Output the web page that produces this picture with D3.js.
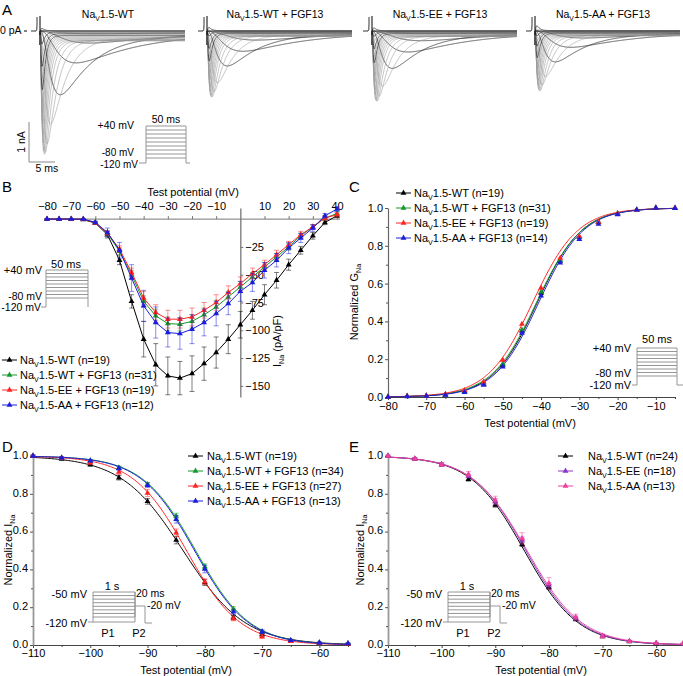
<!DOCTYPE html>
<html>
<head>
<meta charset="utf-8">
<script src="https://cdn.jsdelivr.net/npm/d3@7"></script>
<style>
  body { margin: 0; background: #fff; }
  text { font-family: "Liberation Sans", Arial, sans-serif; }
</style>
</head>
<body>
<svg id="fig" width="683" height="676"></svg>
<script>
// ---------------- data ----------------
// panel A: current families (peak amplitude per sweep comes from the I-V means of panel B)
const traceTitles = ["Na_{V}1.5-WT", "Na_{V}1.5-WT + FGF13", "Na_{V}1.5-EE + FGF13", "Na_{V}1.5-AA + FGF13"];
const tracePeakNA = [3.08, 1.65, 1.75, 1.5];
// kinetic time constants (ms) used to shape each sweep, one per test potential
const sweepTauM = [4, 4, 4, 4, 4, 3.5, 2.5, 1.5, 0.8, 0.55, 0.42, 0.35, 0.3, 0.27, 0.24, 0.22, 0.2, 0.19, 0.18, 0.17, 0.16, 0.15, 0.15, 0.14, 0.14];
const sweepTauH = [18, 18, 18, 18, 18, 16, 12, 6, 3, 1.9, 1.4, 1.1, 0.95, 0.85, 0.78, 0.72, 0.68, 0.65, 0.62, 0.6, 0.58, 0.56, 0.55, 0.54, 0.53];

// panel B: I-V relation (pA/pF)
const ivVoltage = [-80, -75, -70, -65, -60, -55, -50, -45, -40, -35, -30, -25, -20, -15, -10, -5, 0, 5, 10, 15, 20, 25, 30, 35, 40];
const ivWT     = [0, 0, 0, -0.5, -3.5, -14, -37, -74, -108, -131, -141, -143, -139, -130, -120, -108, -95, -82, -68, -55, -41, -28, -15, -3, 3];
const ivWTsem  = [0.5, 0.5, 0.5, 0.5, 1, 3, 4, 6, 16, 19, 17, 15, 16, 15, 14, 13, 12, 8, 9, 7, 5, 3.5, 3, 2, 1.5];
const ivWTF    = [0, 0, 0, 0, -3, -13, -29, -50, -74, -87, -94, -94.5, -92, -86, -79, -70, -61, -52, -43, -34, -25, -15, -7, 1, 5];
const ivWTFsem = [0.5, 0.5, 0.5, 0.5, 1, 2, 3, 4, 5, 6, 6, 6, 6, 6, 6, 5, 5, 4, 4, 3, 3, 2.5, 2, 2, 2];
const ivEE     = [0, 0, 0, 0, -3.5, -12.5, -27, -48, -71, -84, -90, -90, -88, -82, -75, -66, -58, -49, -41, -32, -23, -14, -7, 1, 4];
const ivEEsem  = [0.5, 0.5, 0.5, 0.5, 1, 2, 3, 4, 6, 7, 8, 8, 8, 7, 7, 6, 6, 5, 4, 4, 3, 3, 2, 2, 2];
const ivAA     = [0, 0, 0, 0, -3, -12, -28, -53, -78, -93, -102, -103, -99, -93, -85, -76, -65, -57, -46, -37, -26, -17, -8, 3, 9];
const ivAAsem  = [0.5, 0.5, 0.5, 0.5, 1, 4, 7, 12, 14, 14, 13, 14, 13, 12, 11, 10, 9, 8, 7, 6, 5, 4, 3, 2, 2];
const ivLabels = ["Na_{V}1.5-WT (n=19)", "Na_{V}1.5-WT + FGF13 (n=31)", "Na_{V}1.5-EE + FGF13 (n=19)", "Na_{V}1.5-AA + FGF13 (n=12)"];

// panel C: activation (normalized G_Na) + Boltzmann fit parameters
const actVoltage = [-80, -75, -70, -65, -60, -55, -50, -45, -40, -35, -30, -25, -20, -15, -10, -5];
const actWT  = [0, 0.004, 0.006, 0.012, 0.03, 0.07, 0.17, 0.35, 0.55, 0.72, 0.845, 0.925, 0.97, 0.99, 1.0, 1.0];
const actWTF = [0, 0.004, 0.006, 0.012, 0.03, 0.07, 0.175, 0.355, 0.555, 0.725, 0.845, 0.925, 0.97, 0.99, 1.0, 0.998];
const actEE  = [0, 0.005, 0.007, 0.015, 0.035, 0.08, 0.196, 0.386, 0.577, 0.735, 0.85, 0.925, 0.97, 0.99, 1.0, 1.0];
const actAA  = [0, 0.003, 0.005, 0.01, 0.025, 0.063, 0.16, 0.338, 0.535, 0.71, 0.835, 0.915, 0.965, 0.99, 1.0, 0.998];
const actHalf  = [-41.0, -41.2, -42.2, -40.6];
const actSlope = [5.8, 5.9, 5.9, 5.8];
const actLabels = ["Na_{V}1.5-WT (n=19)", "Na_{V}1.5-WT + FGF13 (n=31)", "Na_{V}1.5-EE + FGF13 (n=19)", "Na_{V}1.5-AA + FGF13 (n=14)"];

// panel D: steady-state inactivation with FGF13
const inaVoltage = [-110, -105, -100, -95, -90, -85, -80, -75, -70, -65, -60, -55];
const inaWT     = [1.0, 0.985, 0.955, 0.885, 0.76, 0.555, 0.33, 0.145, 0.055, 0.02, 0.01, 0.005];
const inaWTsem  = [0.005, 0.008, 0.01, 0.012, 0.015, 0.02, 0.015, 0.012, 0.008, 0.005, 0.004, 0.003];
const inaWTF    = [1.0, 0.99, 0.975, 0.938, 0.85, 0.682, 0.414, 0.19, 0.07, 0.025, 0.012, 0.008];
const inaWTFsem = [0.004, 0.005, 0.006, 0.008, 0.01, 0.015, 0.015, 0.012, 0.008, 0.005, 0.004, 0.003];
const inaEE     = [1.0, 0.99, 0.965, 0.915, 0.804, 0.594, 0.335, 0.14, 0.045, 0.02, 0.01, 0.005];
const inaEEsem  = [0.004, 0.006, 0.01, 0.012, 0.018, 0.02, 0.015, 0.012, 0.01, 0.005, 0.004, 0.003];
const inaAA     = [1.0, 0.99, 0.975, 0.935, 0.845, 0.665, 0.402, 0.175, 0.07, 0.025, 0.012, 0.008];
const inaAAsem  = [0.004, 0.005, 0.006, 0.01, 0.012, 0.02, 0.02, 0.015, 0.01, 0.005, 0.004, 0.003];
const inaHalf  = [-83.8, -81.6, -83.2, -81.8];
const inaSlope = [5.4, 4.7, 4.7, 4.7];
const inaLabels = ["Na_{V}1.5-WT (n=19)", "Na_{V}1.5-WT + FGF13 (n=34)", "Na_{V}1.5-EE + FGF13 (n=27)", "Na_{V}1.5-AA + FGF13 (n=13)"];

// panel E: steady-state inactivation without FGF13
const inbWT    = [1.0, 0.985, 0.955, 0.877, 0.741, 0.533, 0.305, 0.137, 0.045, 0.018, 0.008, 0.004];
const inbWTsem = [0.004, 0.006, 0.008, 0.01, 0.012, 0.012, 0.012, 0.01, 0.006, 0.004, 0.003, 0.002];
const inbEE    = [1.0, 0.985, 0.955, 0.894, 0.759, 0.556, 0.318, 0.142, 0.048, 0.02, 0.01, 0.005];
const inbEEsem = [0.004, 0.006, 0.008, 0.01, 0.015, 0.015, 0.012, 0.01, 0.006, 0.004, 0.003, 0.002];
const inbAA    = [1.0, 0.985, 0.955, 0.903, 0.767, 0.564, 0.326, 0.148, 0.048, 0.02, 0.01, 0.008];
const inbAAsem = [0.004, 0.006, 0.01, 0.015, 0.02, 0.03, 0.03, 0.015, 0.01, 0.006, 0.004, 0.003];
const inbHalf  = [-84.6, -84.3, -84.1];
const inbSlope = [5.0, 5.0, 5.1];
const inbLabels = ["Na_{V}1.5-WT (n=24)", "Na_{V}1.5-EE (n=18)", "Na_{V}1.5-AA (n=13)"];

// ---------------- helpers ----------------
const svg = d3.select("#fig");
svg.append("rect").attr("width", 683).attr("height", 676).attr("fill", "#fff");

const colBlack = "#000000", colGreen = "#16992c", colRed = "#ff2424", colBlue = "#1c1cdc";
const colPurple = "#8a36c8", colPink = "#f0409e";

function txt(g, x, y, s, o = {}) {
  const size = o.size || 11;
  const t = g.append("text").attr("x", x).attr("y", y)
    .attr("font-size", size).attr("text-anchor", o.anchor || "start").attr("fill", "#000");
  if (o.rotate) t.attr("transform", `rotate(${o.rotate},${x},${y})`);
  let shifted = false;
  s.split(/(_\{[^}]*\})/).forEach(p => {
    if (!p) return;
    const m = p.match(/^_\{(.*)\}$/);
    if (m) {
      t.append("tspan").attr("font-size", size * 0.65).attr("dy", 3).text(m[1]);
      shifted = true;
    } else {
      const ts = t.append("tspan").text(p);
      if (shifted) { ts.attr("dy", -3); shifted = false; }
    }
  });
  return t;
}

const tri = d3.symbol().type(d3.symbolTriangle).size(15);

function styleAxis(g, color, width) {
  g.attr("font-size", 11).attr("font-family", '"Liberation Sans", Arial, sans-serif');
  g.selectAll("path.domain").attr("stroke", color).attr("stroke-width", width || 1);
  g.selectAll(".tick line").attr("stroke", color);
  g.selectAll(".tick text").attr("fill", "#000");
}

function series(g, x, y, xs, ys, sem, color, withLine) {
  if (sem) {
    const eb = g.append("g").attr("stroke", color).attr("stroke-opacity", 0.5).attr("stroke-width", 1);
    xs.forEach((v, i) => {
      const top = y(ys[i] + sem[i]), bot = y(ys[i] - sem[i]), cx = x(v);
      eb.append("line").attr("x1", cx).attr("x2", cx).attr("y1", top).attr("y2", bot);
      eb.append("line").attr("x1", cx - 2.5).attr("x2", cx + 2.5).attr("y1", top).attr("y2", top);
      eb.append("line").attr("x1", cx - 2.5).attr("x2", cx + 2.5).attr("y1", bot).attr("y2", bot);
    });
  }
  if (withLine) {
    g.append("path").datum(xs.map((v, i) => [v, ys[i]]))
      .attr("fill", "none").attr("stroke", color).attr("stroke-width", 1)
      .attr("d", d3.line().x(d => x(d[0])).y(d => y(d[1])));
  }
  g.append("g").selectAll("path").data(xs).join("path")
    .attr("transform", (v, i) => `translate(${x(v)},${y(ys[i])})`)
    .attr("d", tri).attr("fill", color);
}

function fitCurve(g, x, y, v0, v1, f, color) {
  const pts = d3.range(v0, v1 + 0.01, 0.25).map(v => [v, f(v)]);
  g.append("path").datum(pts).attr("fill", "none").attr("stroke", color).attr("stroke-width", 1)
    .attr("d", d3.line().x(d => x(d[0])).y(d => y(d[1])));
}

function legend(g, xLine, xText, y0, dy, labels, colors) {
  labels.forEach((s, i) => {
    const yy = y0 + i * dy;
    g.append("line").attr("x1", xLine).attr("x2", xLine + 15).attr("y1", yy).attr("y2", yy)
      .attr("stroke", colors[i]).attr("stroke-width", 1);
    g.append("path").attr("transform", `translate(${xLine + 7.5},${yy})`).attr("d", tri).attr("fill", colors[i]);
    txt(g, xText, yy + 4, s);
  });
}

// step protocol sketch: box of test steps from a holding level
function stepProtocol(g, x0, x1, yTop, yBot, yBase, n, xl, xr) {
  const p = g.append("g").attr("stroke", "#8a8a8a").attr("stroke-width", 0.9).attr("fill", "none");
  const ys = d3.range(n).map(i => yTop + (yBot - yTop) * i / (n - 1));
  ys.forEach(yy => p.append("line").attr("x1", x0).attr("x2", x1).attr("y1", yy).attr("y2", yy));
  p.append("path").attr("d", `M${xl},${yBase}H${x0}V${yTop}M${x1},${yTop}V${yBase}H${xr}`);
  return p;
}

// ---------------- panel A ----------------
const gA = svg.append("g");
txt(gA, 2, 15, "A", { size: 15 });
txt(gA, 0, 34, "0 pA", { size: 10.5 });
gA.append("line").attr("x1", 24).attr("x2", 27).attr("y1", 31).attr("y2", 31).attr("stroke", "#000");

const groupStart = [40, 207, 372, 535];
const groupIV = [ivWT, ivWTF, ivEE, ivAA];
const baseY = 31;
const pxPerNA = 40;
const darkSweeps = [-55, -50, -45, 10, 20, 30, 40];

groupStart.forEach((x0, gi) => {
  const g = gA.append("g");
  txt(g, x0 + 68, 18, traceTitles[gi], { size: 10.5, anchor: "middle" });
  const tx = d3.scaleLinear().domain([0, 28]).range([x0, x0 + 145]);
  const iy = d3.scaleLinear().domain([0, -1]).range([baseY, baseY + pxPerNA]);
  // capacitive step before the test pulse
  g.append("path").attr("fill", "none").attr("stroke", "#000").attr("stroke-width", 0.8)
    .attr("d", `M${x0 - 9},${baseY}H${x0 - 4}Q${x0 - 3},${baseY} ${x0 - 3},${baseY - 6}V${baseY - 14}`);
  const iv = groupIV[gi];
  const ivMin = d3.min(iv);
  ivVoltage.forEach((v, si) => {
    const amp = tracePeakNA[gi] * iv[si] / -ivMin; // nA, negative = inward
    const tm = sweepTauM[si], th = sweepTauH[si];
    const ts = d3.range(0, 28.001, 0.05);
    const shape = ts.map(t => Math.pow(1 - Math.exp(-t / tm), 3) * (Math.exp(-t / th) + 0.03));
    const mx = d3.max(shape);
    const pts = ts.map((t, k) => [t, -amp * shape[k] / mx]);
    pts[0] = [0, 0.35];
    const dark = darkSweeps.includes(v);
    g.append("path").datum(pts).attr("fill", "none")
      .attr("stroke", dark ? "#333" : "#9a9a9a").attr("stroke-width", dark ? 0.8 : 0.6)
      .attr("d", d3.line().x(d => tx(d[0])).y(d => iy(-d[1])));
  });
  g.append("line").attr("x1", x0).attr("x2", x0).attr("y1", baseY - 15).attr("y2", baseY + 4)
    .attr("stroke", "#000").attr("stroke-width", 1);
});

// scale bars
gA.append("path").attr("fill", "none").attr("stroke", "#888").attr("stroke-width", 1)
  .attr("d", "M29,122V162H55");
txt(gA, 25, 142, "1 nA", { size: 10.5, anchor: "middle", rotate: -90 });
txt(gA, 47, 172, "5 ms", { size: 10.5, anchor: "middle" });
// protocol
stepProtocol(gA, 146, 186, 126, 158, 163, 9, 139, 190);
txt(gA, 166, 123, "50 ms", { size: 10.5, anchor: "middle" });
txt(gA, 134, 129, "+40 mV", { size: 10.5, anchor: "end" });
txt(gA, 134, 156, "-80 mV", { size: 10, anchor: "end" });
txt(gA, 138, 168, "-120 mV", { size: 10, anchor: "end" });

// ---------------- panel B ----------------
const gB = svg.append("g");
txt(gB, 2, 192, "B", { size: 15 });
const xB = d3.scaleLinear().domain([-80, 40]).range([47, 337]);
const yB = d3.scaleLinear().domain([-160, 10]).range([397, 208]);

const axBx = gB.append("g").attr("transform", `translate(0,${yB(0)})`)
  .call(d3.axisTop(xB).tickValues([-80, -70, -60, -50, -40, -30, -20, -10, 10, 20, 30, 40]).tickSize(3).tickSizeOuter(0).tickPadding(6));
styleAxis(axBx, "#777");
axBx.select("path.domain").attr("d", `M${xB(-80)},0H${xB(40) + 3}`);
const axBy = gB.append("g").attr("transform", `translate(${xB(0)},0)`)
  .call(d3.axisRight(yB).tickValues([-25, -50, -75, -100, -125, -150]).tickSize(3).tickSizeOuter(0).tickPadding(2));
styleAxis(axBy, "#777", 1.3);
txt(gB, 193, 196, "Test potential  (mV)", { anchor: "middle" });
txt(gB, 281, 341, "I_{Na} (pA/pF)", { anchor: "middle", rotate: -90 });

[[ivWT, ivWTsem, colBlack], [ivWTF, ivWTFsem, colGreen], [ivEE, ivEEsem, colRed], [ivAA, ivAAsem, colBlue]]
  .forEach(([m, s, c]) => series(gB, xB, yB, ivVoltage, m, s, c, true));

legend(gB, 2, 20, 360, 15, ivLabels, [colBlack, colGreen, colRed, colBlue]);
stepProtocol(gB, 46, 88, 270, 298, 307, 9, 41, 88);
txt(gB, 66, 268, "50 ms", { anchor: "middle" });
txt(gB, 42, 274, "+40 mV", { anchor: "end" });
txt(gB, 42, 300, "-80 mV", { size: 10.5, anchor: "end" });
txt(gB, 41, 311, "-120 mV", { size: 10.5, anchor: "end" });

// ---------------- panel C ----------------
const gC = svg.append("g");
txt(gC, 349, 192, "C", { size: 15 });
const xC = d3.scaleLinear().domain([-80, -5]).range([388, 675]);
const yC = d3.scaleLinear().domain([0, 1]).range([397, 208]);

function xAxisBottom(g, x, y0, major, minor, color, pad) {
  const a = g.append("g").attr("transform", `translate(0,${y0})`)
    .call(d3.axisBottom(x).tickValues(major).tickSize(3).tickSizeOuter(0).tickPadding(pad));
  styleAxis(a, color);
  const b = g.append("g").attr("transform", `translate(0,${y0})`)
    .call(d3.axisBottom(x).tickValues(minor).tickSize(2).tickFormat(""));
  styleAxis(b, color);
  b.select("path.domain").remove();
}
function yAxisLeft(g, y, x0, color, width) {
  const a = g.append("g").attr("transform", `translate(${x0},0)`)
    .call(d3.axisLeft(y).tickValues([0, 0.2, 0.4, 0.6, 0.8, 1.0]).tickFormat(d3.format(".1f")).tickSize(3).tickSizeOuter(0).tickPadding(2));
  styleAxis(a, color, width);
  a.selectAll(".tick line").attr("stroke", "#555");
  const b = g.append("g").attr("transform", `translate(${x0},0)`)
    .call(d3.axisLeft(y).tickValues([0.1, 0.3, 0.5, 0.7, 0.9]).tickSize(2).tickFormat(""));
  styleAxis(b, "#555");
  b.select("path.domain").remove();
  return a;
}

xAxisBottom(gC, xC, 397, [-80, -70, -60, -50, -40, -30, -20, -10], [-75, -65, -55, -45, -35, -25, -15, -5], "#444", 2);
yAxisLeft(gC, yC, 388, "#666", 1.2);
txt(gC, 530, 427, "Test potential  (mV)", { anchor: "middle" });
txt(gC, 358, 302, "Normalized G_{Na}", { anchor: "middle", rotate: -90 });

const actSets = [actWT, actWTF, actEE, actAA];
const actCols = [colBlack, colGreen, colRed, colBlue];
actSets.forEach((d, i) => {
  fitCurve(gC, xC, yC, -80, -5, v => 1 / (1 + Math.exp((actHalf[i] - v) / actSlope[i])), actCols[i]);
});
actSets.forEach((d, i) => series(gC, xC, yC, actVoltage, d, null, actCols[i], false));
legend(gC, 396, 414, 193, 15, actLabels, actCols);
stepProtocol(gC, 637, 677, 348, 376, 385, 9, 632, 683);
txt(gC, 657, 343, "50 ms", { anchor: "middle" });
txt(gC, 631, 352, "+40 mV", { anchor: "end" });
txt(gC, 631, 377, "-80 mV", { anchor: "end" });
txt(gC, 631, 389, "-120 mV", { anchor: "end" });

// ---------------- panels D & E ----------------
function inactProtocol(g, dx) {
  const p = stepProtocol(g, 93 + dx, 135 + dx, 592, 617, 622, 8, 88 + dx, 93 + dx);
  p.append("path").attr("d", `M${135 + dx},592V617M${135 + dx},606H${145 + dx}V623H${152 + dx}`);
  txt(g, 87 + dx, 598, "-50 mV", { anchor: "end" });
  txt(g, 112 + dx, 590, "1 s", { anchor: "middle" });
  txt(g, 136 + dx, 597, "20 ms", { size: 10.5 });
  txt(g, 147 + dx, 609, "-20 mV", { size: 10.5 });
  txt(g, 87 + dx, 627, "-120 mV", { anchor: "end" });
  txt(g, 108 + dx, 637, "P1", { anchor: "middle" });
  txt(g, 139 + dx, 637, "P2", { anchor: "middle" });
}
const inaX = [-110, -100, -90, -80, -70, -60];
const inaXminor = [-105, -95, -85, -75, -65, -55];

const gD = svg.append("g");
txt(gD, 2, 452, "D", { size: 15 });
const xD = d3.scaleLinear().domain([-110, -55]).range([33, 348]);
const yD = d3.scaleLinear().domain([0, 1]).range([645, 456]);
xAxisBottom(gD, xD, 645, inaX, inaXminor, "#444", 1);
yAxisLeft(gD, yD, 33, "#999", 1.8).selectAll(".tick text").attr("dy", "0.2em");
txt(gD, 186, 674, "Test potential  (mV)", { anchor: "middle" });
txt(gD, 12, 550, "Normalized I_{Na}", { anchor: "middle", rotate: -90 });
const inaSets = [[inaWT, inaWTsem], [inaWTF, inaWTFsem], [inaEE, inaEEsem], [inaAA, inaAAsem]];
const inaCols = [colBlack, colGreen, colRed, colBlue];
inaSets.forEach((d, i) => fitCurve(gD, xD, yD, -110, -55, v => 1 / (1 + Math.exp((v - inaHalf[i]) / inaSlope[i])), inaCols[i]));
inaSets.forEach((d, i) => series(gD, xD, yD, inaVoltage, d[0], d[1], inaCols[i], false));
legend(gD, 188, 207, 456, 15, inaLabels, inaCols);
inactProtocol(gD, 0);

const gE = svg.append("g");
txt(gE, 349, 452, "E", { size: 15 });
const xE = d3.scaleLinear().domain([-110, -55]).range([388, 683]);
const yE = d3.scaleLinear().domain([0, 1]).range([645, 456]);
xAxisBottom(gE, xE, 645, inaX, inaXminor, "#444", 1);
yAxisLeft(gE, yE, 388, "#999", 1.8).selectAll(".tick text").attr("dy", "0.2em");
txt(gE, 541, 674, "Test potential  (mV)", { anchor: "middle" });
txt(gE, 364, 550, "Normalized I_{Na}", { anchor: "middle", rotate: -90 });
const inbSets = [[inbWT, inbWTsem], [inbEE, inbEEsem], [inbAA, inbAAsem]];
const inbCols = [colBlack, colPurple, colPink];
inbSets.forEach((d, i) => fitCurve(gE, xE, yE, -110, -55, v => 1 / (1 + Math.exp((v - inbHalf[i]) / inbSlope[i])), inbCols[i]));
inbSets.forEach((d, i) => series(gE, xE, yE, inaVoltage, d[0], d[1], inbCols[i], false));
legend(gE, 558, 588, 456, 15, inbLabels, inbCols);
inactProtocol(gE, 355);
</script>
</body>
</html>
